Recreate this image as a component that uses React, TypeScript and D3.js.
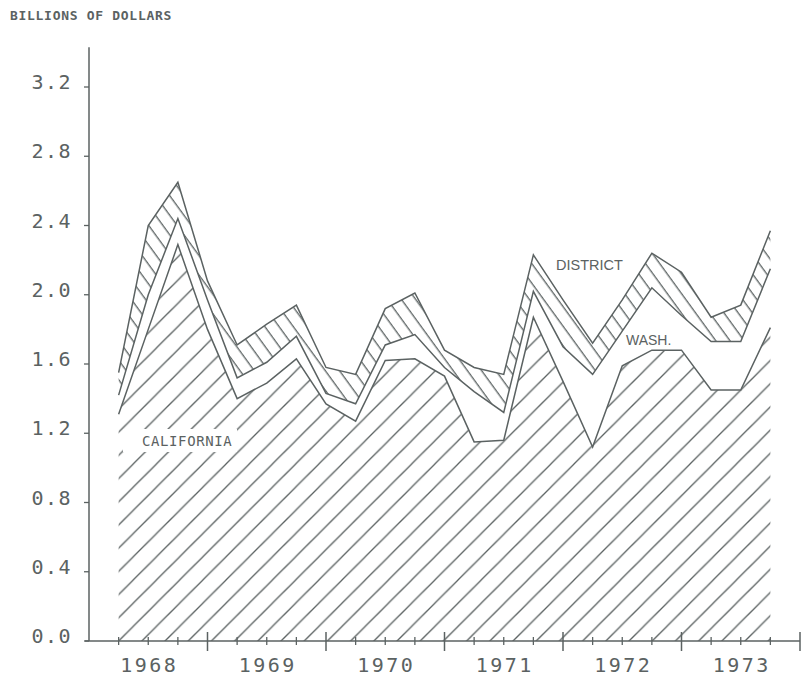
import React from "react";
import * as d3 from "d3";

// ---- data (billions of dollars, quarterly) ----
const periods = [
  "1968 Q1", "1968 Q2", "1968 Q3", "1968 Q4",
  "1969 Q1", "1969 Q2", "1969 Q3", "1969 Q4",
  "1970 Q1", "1970 Q2", "1970 Q3", "1970 Q4",
  "1971 Q1", "1971 Q2", "1971 Q3", "1971 Q4",
  "1972 Q1", "1972 Q2", "1972 Q3", "1972 Q4",
  "1973 Q1", "1973 Q2", "1973 Q3",
];
const california = [
  1.31, 1.8, 2.29, 1.8, 1.4, 1.49, 1.63, 1.37, 1.27, 1.62, 1.63, 1.53,
  1.15, 1.16, 1.87, 1.5, 1.12, 1.59, 1.68, 1.68, 1.45, 1.45, 1.81,
];
const washington = [
  0.11, 0.2, 0.15, 0.17, 0.12, 0.12, 0.13, 0.06, 0.1, 0.09, 0.14, 0.05,
  0.29, 0.16, 0.15, 0.2, 0.42, 0.2, 0.36, 0.2, 0.28, 0.28, 0.34,
];
const district = [
  0.13, 0.4, 0.21, 0.11, 0.19, 0.22, 0.18, 0.15, 0.17, 0.21, 0.24, 0.1,
  0.14, 0.22, 0.21, 0.27, 0.18, 0.18, 0.2, 0.25, 0.14, 0.21, 0.22,
];
const yTicks = [0, 0.4, 0.8, 1.2, 1.6, 2.0, 2.4, 2.8, 3.2];
const years = [1968, 1969, 1970, 1971, 1972, 1973];
const seriesKeys = ["california", "washington", "district"];

const INK = "#5b6262";

export default function App() {
  const W = 805;
  const H = 678;
  const x = d3.scaleLinear().domain([1968, 1974]).range([89, 800]);
  const y = d3.scaleLinear().domain([0, 3.2]).range([641, 87]);

  const rows = periods.map((p, i) => {
    const [yr, q] = p.split(" Q");
    return {
      t: +yr + +q / 4,
      california: california[i],
      washington: washington[i],
      district: district[i],
    };
  });
  const stacked = d3.stack<any>().keys(seriesKeys)(rows);

  const area = d3
    .area<any>()
    .x((d) => x(d.data.t))
    .y0((d) => y(d[0]))
    .y1((d) => y(d[1]));
  const topLine = d3
    .line<any>()
    .x((d) => x(d.data.t))
    .y((d) => y(d[1]));

  const quarterTicks: number[] = [];
  for (let yr = 1968; yr < 1974; yr++) {
    for (let q = 1; q < 4; q++) quarterTicks.push(yr + q / 4);
  }
  const majorTicks = [1969, 1970, 1971, 1972, 1973, 1974];

  // California hatch phase: lines pass through the first data foot
  const s = 23.2;
  const x0 = x(rows[0].t);
  const phase = ((x0 + y(0)) % s + s) % s;

  const monoFont = "'DejaVu Sans Mono', monospace";
  const sansFont = "'Liberation Sans', Arial, sans-serif";

  return (
    <svg
      width={W}
      height={H}
      style={{ position: "absolute", left: 0, top: 0, background: "#fff" }}
    >
      <defs>
        <pattern
          id="calHatch"
          patternUnits="userSpaceOnUse"
          x={phase}
          y={0}
          width={s}
          height={s}
        >
          <line x1={0} y1={s} x2={s} y2={0} stroke={INK} strokeWidth={1.3} />
          <line x1={-2} y1={2} x2={2} y2={-2} stroke={INK} strokeWidth={1.3} />
          <line x1={s - 2} y1={s + 2} x2={s + 2} y2={s - 2} stroke={INK} strokeWidth={1.3} />
        </pattern>
        <pattern
          id="distHatch"
          patternUnits="userSpaceOnUse"
          width={20}
          height={11.5}
          patternTransform="rotate(54)"
        >
          <line x1={-1} y1={0.7} x2={21} y2={0.7} stroke={INK} strokeWidth={1.3} />
        </pattern>
      </defs>

      {/* title */}
      <text
        x={10}
        y={20}
        fontFamily={monoFont}
        fontWeight="bold"
        fontSize={13}
        letterSpacing={0.7}
        fill={INK}
      >
        BILLIONS OF DOLLARS
      </text>

      {/* areas */}
      <path d={area(stacked[0]) || ""} fill="url(#calHatch)" stroke="none" />
      <path d={area(stacked[1]) || ""} fill="#fff" stroke="none" />
      <path d={area(stacked[2]) || ""} fill="url(#distHatch)" stroke="none" />
      {stacked.map((ser, i) => (
        <path
          key={i}
          d={topLine(ser) || ""}
          fill="none"
          stroke={INK}
          strokeWidth={1.5}
          strokeLinejoin="miter"
        />
      ))}

      {/* area labels */}
      <rect x={123} y={429} width={114} height={23} fill="#fff" />
      <text
        x={142}
        y={446}
        fontFamily={monoFont}
        fontSize={14}
        letterSpacing={0.6}
        fill={INK}
      >
        CALIFORNIA
      </text>
      <text x={556} y={270} fontFamily={sansFont} fontSize={14.5} fill={INK}>
        DISTRICT
      </text>
      <text x={626} y={345} fontFamily={sansFont} fontSize={14} fill={INK}>
        WASH.
      </text>

      {/* y axis */}
      <line x1={89} y1={y(0)} x2={89} y2={y(3.43)} stroke={INK} strokeWidth={1.5} />
      {yTicks.map((v) => (
        <g key={v}>
          <line x1={84} y1={y(v)} x2={89} y2={y(v)} stroke={INK} strokeWidth={1.3} />
          <text
            x={72}
            y={y(v) + 2}
            textAnchor="end"
            fontFamily={monoFont}
            fontSize={20}
            letterSpacing={1.5}
            fill={INK}
          >
            {v.toFixed(1)}
          </text>
        </g>
      ))}

      {/* x axis */}
      <line x1={85} y1={y(0)} x2={800} y2={y(0)} stroke={INK} strokeWidth={1.5} />
      {quarterTicks.map((t) => (
        <line key={t} x1={x(t)} y1={y(0) - 4} x2={x(t)} y2={y(0) + 4} stroke={INK} strokeWidth={1.3} />
      ))}
      {majorTicks.map((t) => (
        <line key={t} x1={x(t)} y1={y(0) - 9} x2={x(t)} y2={y(0) + 10} stroke={INK} strokeWidth={1.5} />
      ))}
      {years.map((yr) => (
        <text
          key={yr}
          x={x(yr + 0.5) + 1}
          y={672}
          textAnchor="middle"
          fontFamily={monoFont}
          fontSize={20}
          letterSpacing={2.5}
          fill={INK}
        >
          {yr}
        </text>
      ))}
    </svg>
  );
}
